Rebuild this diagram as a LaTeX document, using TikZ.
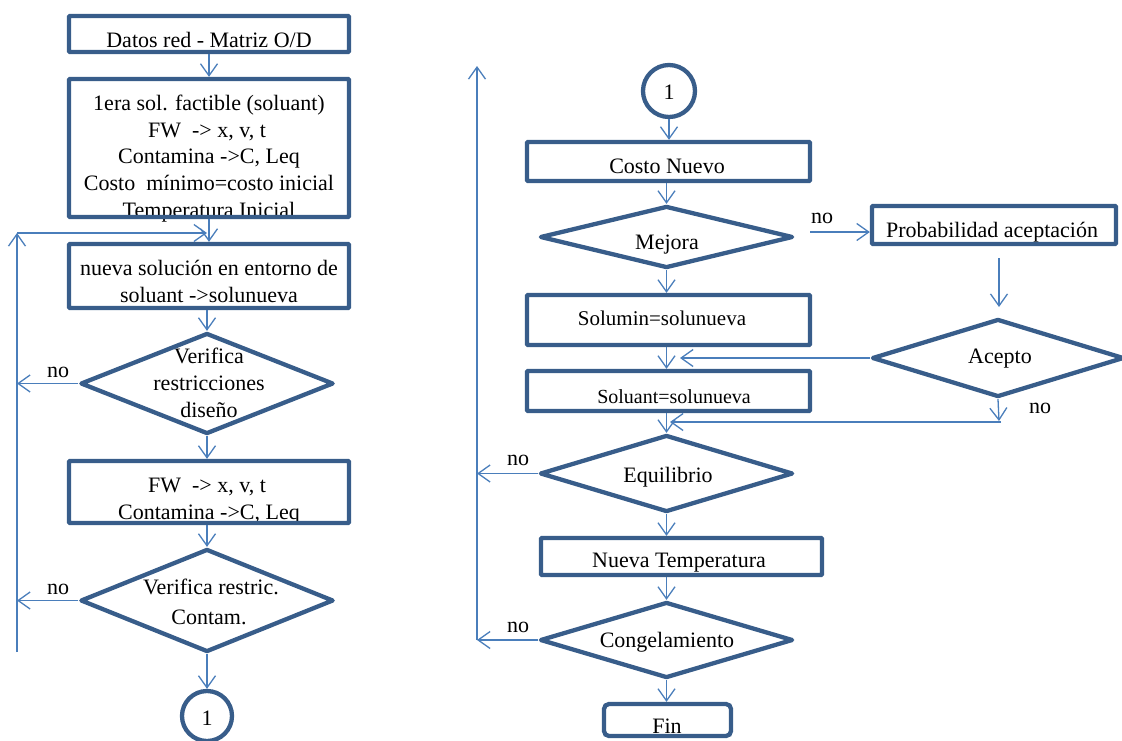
\documentclass[tikz,border=0pt]{standalone}
\usepackage{fontspec}
\setmainfont{Liberation Serif}
\usetikzlibrary{arrows.meta,shapes.geometric}
\definecolor{boxblue}{HTML}{385D8A}
\definecolor{lineblue}{HTML}{4A7EBB}
\begin{document}
\begin{tikzpicture}[x=1pt,y=-1pt,
  box/.style={draw=boxblue,line width=4.3pt,rectangle,rounded corners=1pt,inner sep=0pt},
  dia/.style={draw=boxblue,line width=4.3pt,diamond,inner sep=0pt,line join=round},
  circ/.style={draw=boxblue,line width=4.3pt,circle,inner sep=0pt},
  txt/.style={anchor=base,inner sep=0pt,font=\fontsize{22}{26}\selectfont},
  stxt/.style={anchor=base,inner sep=0pt,font=\fontsize{20}{24}\selectfont},
  conn/.style={draw=lineblue,line width=1.3pt,-{Straight Barb[length=12pt,width=17pt]}},
  plain/.style={draw=lineblue,line width=1.3pt}]
\useasboundingbox (0,0) rectangle (1122,740);

% ---------------- texts (left column) ----------------
\node[txt] (t1) at (209,47) {Datos red - Matriz O/D};
\node[txt] (t2a) at (209,110) {1era sol. factible (soluant)};
\node[txt] (t2b) at (207,137) {FW\ \ -> x, v, t};
\node[txt] (t2c) at (209,163) {Contamina ->C, Leq};
\node[txt] (t2d) at (209,190) {Costo\ \ mínimo=costo inicial};
\node[txt] (t2e) at (209,217) {Temperatura Inicial};
\node[txt] (t3a) at (209,275) {nueva solución en entorno de};
\node[txt] (t3b) at (209,302) {soluant ->solunueva};
\node[txt] (t4a) at (209,363) {Verifica};
\node[txt] (t4b) at (209,390) {restricciones};
\node[txt] (t4c) at (209,417) {diseño};
\node[txt] (t5a) at (207,492) {FW\ \ -> x, v, t};
\node[txt] (t5b) at (209,519) {Contamina ->C, Leq};
\node[txt] (t6a) at (211,594) {Verifica restric.};
\node[txt] (t6b) at (209,624) {Contam.};
\node[txt] (no1) at (58,377) {no};
\node[txt] (no2) at (58,594) {no};
\node[txt] (t7) at (207,725) {1};

% ---------------- texts (right column) ----------------
\node[txt] (r1) at (669,99) {1};
\node[txt] (r2) at (667,173) {Costo Nuevo};
\node[txt] (r3) at (667,249) {Mejora};
\node[txt] (no3) at (822,223) {no};
\node[txt] (r4) at (992,237) {Probabilidad aceptación};
\node[txt] (r5) at (1000,363) {Acepto};
\node[txt] (no4) at (1040,413) {no};
\node[stxt,font=\fontsize{21}{25}\selectfont] (r6) at (662,325) {Solumin=solunueva};
\node[stxt] (r7) at (674,403) {Soluant=solunueva};
\node[txt] (no5) at (518,465) {no};
\node[txt] (r8) at (668,482) {Equilibrio};
\node[txt] (r9) at (679,567) {Nueva Temperatura};
\node[txt] (no6) at (518,632) {no};
\node[txt] (r10) at (667,647) {Congelamiento};
\node[txt] (r11) at (667,733) {Fin};

% ---------------- shapes (left column) ----------------
\node[box,minimum width=280pt,minimum height=36pt] (b1) at (209,34) {};
\node[box,minimum width=280pt,minimum height=138pt] (b2) at (209,148) {};
\node[box,minimum width=280pt,minimum height=64pt] (b3) at (209,276) {};
\node[dia,minimum width=253pt,minimum height=101pt] (d1) at (207,383.5) {};
\node[box,minimum width=280pt,minimum height=62pt] (b4) at (209,492) {};
\node[dia,minimum width=253pt,minimum height=103pt] (d2) at (207,600.5) {};
\node[circ,minimum size=50pt] (c1) at (207,716) {};

% ---------------- shapes (right column) ----------------
\node[circ,minimum size=52pt] (c2) at (669,91) {};
\node[box,minimum width=283pt,minimum height=39pt] (k1) at (668.5,161.5) {};
\node[dia,minimum width=253pt,minimum height=62pt] (m1) at (666.5,237) {};
\node[box,minimum width=244pt,minimum height=38pt] (p1) at (994,225) {};
\node[dia,minimum width=252pt,minimum height=78pt] (a1) at (998,358) {};
\node[box,minimum width=283pt,minimum height=50pt] (s1) at (668.5,320) {};
\node[box,minimum width=283pt,minimum height=40pt] (s2) at (668.5,391) {};
\node[dia,minimum width=253pt,minimum height=77pt] (e1) at (666.5,473.5) {};
\node[box,minimum width=281pt,minimum height=37pt] (n1) at (681.5,556.5) {};
\node[dia,minimum width=253pt,minimum height=76pt] (g1) at (666.5,640) {};
\node[box,rounded corners=5pt,minimum width=127pt,minimum height=32pt] (f1) at (667.5,720) {};

% ---------------- coordinates ----------------
\coordinate (lb) at (17,652);
\coordinate (lt) at (17,233);
\coordinate (le) at (207,233);
\coordinate (mA) at (810,232);
\coordinate (pA) at (999,258);
\coordinate (pB) at (999,307);
\coordinate (acT) at (680,358);
\coordinate (acB) at (999,421);
\coordinate (acR) at (1001,422);
\coordinate (acL) at (670,422);
\coordinate (rb) at (477,640);
\coordinate (rt) at (477,66);

% ---------------- connectors (left) ----------------
\draw[conn] (b1.south) -- (b2.north);
\draw[conn] (b2.south) -- (b3.north);
\draw[conn] (b3.south -| d1.north) -- (d1.north);
\draw[conn] (d1.south) -- (b4.north -| d1.south);
\draw[conn] (b4.south -| d2.north) -- (d2.north);
\draw[conn] (d2.south) -- (c1.north);
\draw[conn] (d1.west) -- (d1.west -| lb);
\draw[conn] (d2.west) -- (d2.west -| lb);
\draw[conn] (lb) -- (lt);
\draw[conn] (lt) -- (le);

% ---------------- connectors (right) ----------------
\draw[conn] (c2.south) -- (k1.north -| c2.south);
\draw[conn] (k1.south -| m1.north) -- (m1.north);
\draw[conn] (mA) -- (mA -| p1.west);
\draw[conn] (pA) -- (pB);
\draw[conn] (m1.south) -- (s1.north -| m1.south);
\draw[conn] (s1.south -| m1.south) -- (s2.north -| m1.south);
\draw[conn] (a1.west) -- (acT);
\draw[conn] (a1.south) -- (acB);
\draw[conn] (acR) -- (acL);
\draw[conn] (s2.south -| e1.north) -- (e1.north);
\draw[conn] (e1.south) -- (n1.north -| e1.south);
\draw[conn] (n1.south -| g1.north) -- (g1.north);
\draw[conn] (g1.south) -- (f1.north -| g1.south);
\draw[conn] (e1.west) -- (e1.west -| rb);
\draw[conn] (g1.west) -- (rb);
\draw[conn] (rb) -- (rt);
\end{tikzpicture}
\end{document}
